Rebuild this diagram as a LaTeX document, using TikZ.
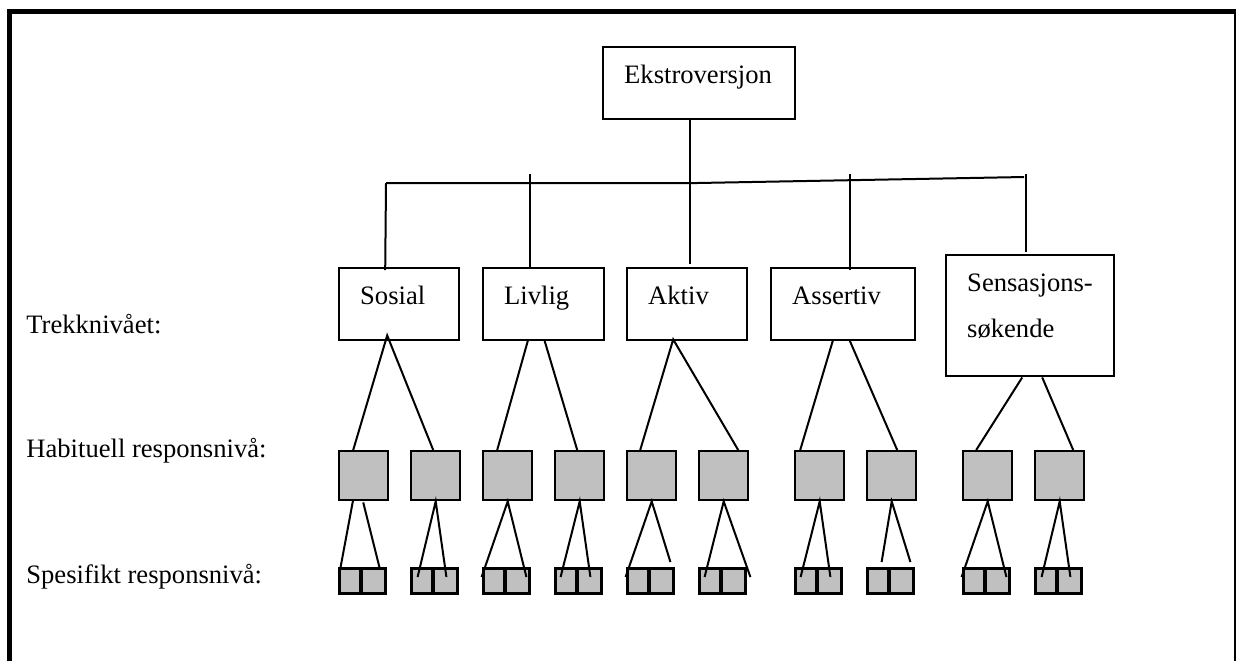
\documentclass[tikz,border=0pt]{standalone}
\usepackage{fontspec}
\setmainfont{Liberation Serif}
\usetikzlibrary{calc}
\definecolor{boxgray}{HTML}{C0C0C0}
\newcommand{\diafont}{\fontsize{13.3}{23.3}\selectfont}
\tikzset{
  trekk/.style={draw, line width=1.2pt, inner xsep=10.5pt, inner ysep=0pt, align=left, anchor=north west, text height=18pt, text depth=18pt, font=\diafont},
  habit/.style={draw, fill=boxgray, line width=1.2pt, minimum width=24.5pt, minimum height=24.5pt, inner sep=0pt, anchor=north west},
  spes/.style={draw, fill=boxgray, line width=1.6pt, minimum width=12.25pt, minimum height=12.5pt, inner sep=0pt},
  conn/.style={line width=1pt},
  lvl/.style={anchor=base west, inner sep=0pt, font=\diafont}
}

\begin{document}
\begin{tikzpicture}[x=0.5pt, y=-0.5pt]
  \useasboundingbox (0,0) rectangle (1236,661);
  \draw[line width=2.5pt] (9.5,661) -- (9.5,11.5) -- (1236,11.5);
  \draw[line width=1pt] (1235,11.5) -- (1235,661);

  \node[trekk, text width=75pt] (ekstro) at (602,46) {Ekstroversjon};
  \node[trekk, text width=39pt] (sosial) at (338,267) {Sosial};
  \node[trekk, text width=39.5pt] (livlig) at (482,267) {Livlig};
  \node[trekk, text width=39pt] (aktiv) at (626,267) {Aktiv};
  \node[trekk, text width=51pt] (assertiv) at (770,267) {Assertiv};
  \node[trekk, text width=63pt, text depth=42.5pt] (sensasjon) at (945,254) {Sensasjons-\\søkende};

  \node[lvl] (lvltrekk) at (26,333) {Trekknivået:};
  \node[lvl] (lvlhabit) at (26,457) {Habituell responsnivå:};
  \node[lvl] (lvlspes) at (26,583) {Spesifikt responsnivå:};

  \foreach \n/\x in {1/338,2/410,3/482,4/554,5/626,6/698,7/794,8/866,9/962,10/1034} {
    \node[habit] (h\n) at (\x,450) {};
    \node[spes, anchor=north west] (sa\n) at (\x,567) {};
    \node[spes, anchor=north east] (sb\n) at (\x+49,567) {};
  }

  \coordinate (barL) at (386,183);
  \coordinate (barM) at (697,183);
  \coordinate (barR) at (1024,177);
  \draw[conn] (barL) -- (barM) -- (barR);
  \draw[conn] ($(ekstro.south)+(-9,0)$) -- ($(aktiv.north)+(3,-3)$);
  \draw[conn] (barL) -- ($(sosial.north)+(-14,3)$);
  \draw[conn] ($(livlig.north)+(-13.5,0)$) -- ++(0,-93);
  \draw[conn] ($(assertiv.north)+(7,3)$) -- ++(0,-96);
  \draw[conn] ($(sensasjon.north)+(-4.5,-2)$) -- ++(0,-78);

  \draw[conn] ($(h1.north)+(-10.5,0)$) -- ($(sosial.south)+(-12,-6)$) -- ($(h2.north)+(-2.5,0)$);
  \draw[conn] ($(livlig.south)+(-15.5,-2)$) -- ($(h3.north)+(-10.5,0)$);
  \draw[conn] ($(livlig.south)+(0.5,-2)$) -- ($(h4.north)+(-2.5,0)$);
  \draw[conn] ($(h5.north)+(-11.5,0)$) -- ($(aktiv.south)+(-14,-2)$) -- ($(h6.north)+(14.5,0)$);
  \draw[conn] ($(assertiv.south)+(-10,-2)$) -- ($(h7.north)+(-19.5,0)$);
  \draw[conn] ($(assertiv.south)+(6,-2)$) -- ($(h8.north)+(5.5,0)$);
  \draw[conn] ($(sensasjon.south)+(-8,0)$) -- ($(h9.north)+(-11.5,0)$);
  \draw[conn] ($(sensasjon.south)+(12,0)$) -- ($(h10.north)+(13.5,0)$);

  \draw[conn] ($(h1.south)+(-10.5,-2)$) -- ($(sa1.north)+(-11.25,0)$);
  \draw[conn] ($(h1.south)+(-0.5,1)$) -- ($(sb1.north)+(6.25,0)$);
  \foreach \n/\l/\r in {2/{-6.25,10}/{1.25,10}, 3/{-14.25,10}/{9.25,10}, 4/{-7.25,10}/{1.25,10},
      5/{-14.25,10}/{9.25,-5}, 6/{-7.25,10}/{17.25,10}, 7/{-7.25,10}/{1.25,10},
      8/{1.75,-5}/{9.25,-5}, 9/{-14.25,10}/{9.25,10}, 10/{-6.25,10}/{1.25,10}} {
    \draw[conn] ($(sa\n.north)+(\l)$) -- (h\n.south) -- ($(sb\n.north)+(\r)$);
  }
\end{tikzpicture}
\end{document}
